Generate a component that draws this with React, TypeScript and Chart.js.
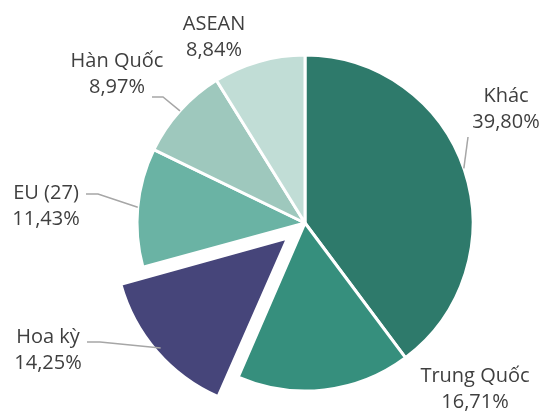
import React, { useEffect, useRef } from "react";
import { Chart, registerables } from "chart.js";

Chart.register(...registerables);

// ---- data ----
const categories = ["Khác", "Trung Quốc", "Hoa kỳ", "EU (27)", "Hàn Quốc", "ASEAN"];
const shares = [39.8, 16.71, 14.25, 11.43, 8.97, 8.84];

// ---- styles / layout (not data) ----
const sliceColors = ["#2E7A6B", "#368F7D", "#46457A", "#6AB3A4", "#9EC8BD", "#C1DDD6"];
// effective explode distance in px (Chart.js 4 draws offset / 4)
const sliceOffsets = [0, 0, 23, 0, 0, 0];
const FONT = '20px "Open Sans", "Noto Sans", sans-serif';
const TEXT_COLOR = "#3F3F3F";
const LINE_COLOR = "#A6A6A6";
const LINE_GAP = 26;

// label text centre x and first baseline y, relative to pie centre;
// leader: label-side points (relative to pie centre) and the angle (deg, clockwise from top)
// where it touches the slice's rim
type Layout = { dx: number; dy: number; leader?: { pts: number[][]; angle: number } };
const labelLayout: Layout[] = [
  { dx: 201, dy: -121, leader: { pts: [[163, -86]], angle: 71 } },
  { dx: 170, dy: 159 },
  { dx: -257, dy: 120, leader: { pts: [[-218, 119], [-205, 119]], angle: 229.1 } },
  { dx: -259, dy: -24, leader: { pts: [[-219, -29], [-207, -29]], angle: 275.4 } },
  { dx: -188, dy: -156, leader: { pts: [[-153, -126], [-142, -126]], angle: 311.9 } },
  { dx: -91, dy: -193 },
];

const fmt = (v: number) => v.toFixed(2).replace(".", ",") + "%";

const labelPlugin = {
  id: "pieLabels",
  afterDraw(chart: any) {
    const ctx = chart.ctx as CanvasRenderingContext2D;
    const meta = chart.getDatasetMeta(0);
    const arcs = meta.data;
    if (!arcs.length) return;
    const cx = arcs[0].x;
    const cy = arcs[0].y;
    ctx.save();
    // leader lines
    ctx.strokeStyle = LINE_COLOR;
    ctx.lineWidth = 1.5;
    arcs.forEach((arc: any, i: number) => {
      const lay = labelLayout[i];
      if (!lay.leader) return;
      const off = sliceOffsets[i] || 0;
      const mid = (arc.startAngle + arc.endAngle) / 2;
      const ox = arc.x + Math.cos(mid) * off;
      const oy = arc.y + Math.sin(mid) * off;
      const a = ((lay.leader.angle - 90) * Math.PI) / 180;
      const r = arc.outerRadius;
      ctx.beginPath();
      lay.leader.pts.forEach((p, k) => {
        if (k === 0) ctx.moveTo(cx + p[0], cy + p[1]);
        else ctx.lineTo(cx + p[0], cy + p[1]);
      });
      ctx.lineTo(ox + Math.cos(a) * r, oy + Math.sin(a) * r);
      ctx.stroke();
    });
    // texts
    ctx.font = FONT;
    ctx.fillStyle = TEXT_COLOR;
    ctx.textAlign = "center";
    ctx.textBaseline = "alphabetic";
    arcs.forEach((_arc: any, i: number) => {
      const lay = labelLayout[i];
      const x = cx + lay.dx;
      const y = cy + lay.dy;
      ctx.fillText(categories[i], x, y);
      ctx.fillText(fmt(shares[i]), x, y + LINE_GAP);
    });
    ctx.restore();
  },
};

export default function App() {
  const ref = useRef<HTMLCanvasElement | null>(null);
  useEffect(() => {
    if (!ref.current) return;
    const chart = new Chart(ref.current, {
      type: "pie",
      data: {
        labels: categories,
        datasets: [
          {
            data: shares,
            backgroundColor: sliceColors,
            borderColor: "#FFFFFF",
            borderWidth: 3,
            offset: sliceOffsets.map((o) => o * 4),
          },
        ],
      },
      options: {
        animation: false,
        responsive: false,
        radius: 168,
        layout: { padding: { left: 61, right: 0, top: 34, bottom: 0 } },
        plugins: {
          legend: { display: false },
          tooltip: { enabled: false },
        },
      } as any,
      plugins: [labelPlugin],
    });
    return () => chart.destroy();
  }, []);
  return (
    <div style={{ position: "absolute", left: 0, top: 0, width: 549, height: 412, background: "#fff" }}>
      <canvas ref={ref} width={549} height={412} style={{ display: "block" }} />
    </div>
  );
}
